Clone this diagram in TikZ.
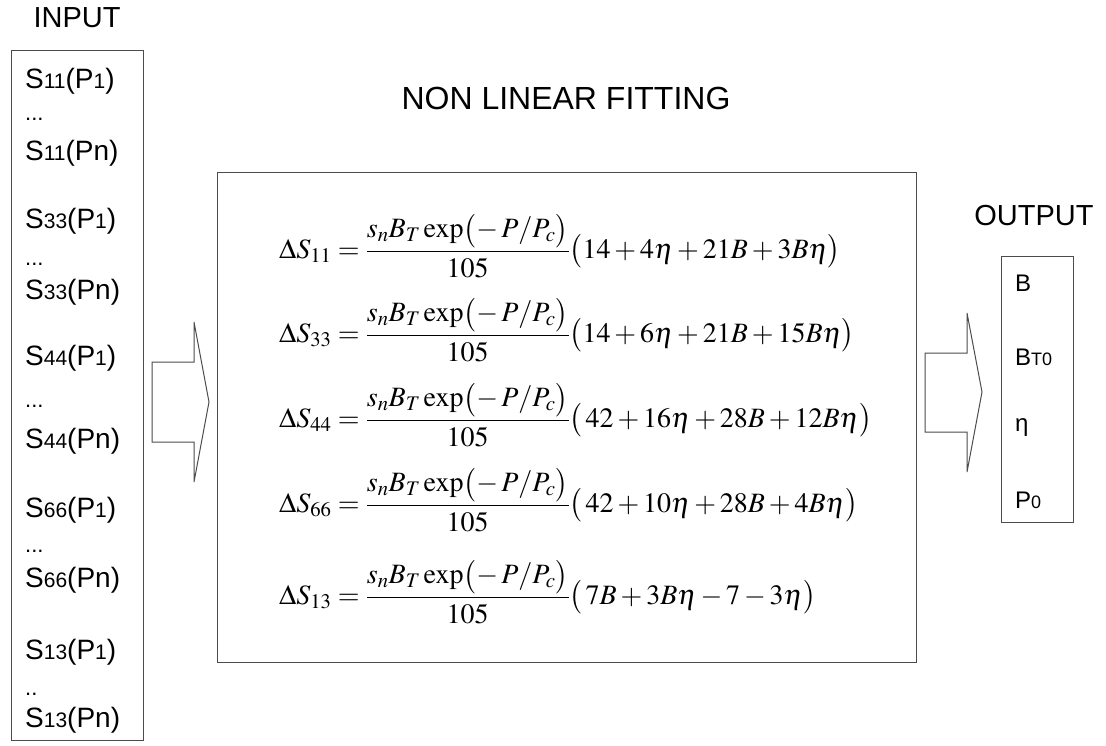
\documentclass[tikz,border=0pt]{standalone}
\usepackage{mathptmx}
\usepackage[no-math]{fontspec}
\newfontfamily\arial{Liberation Sans}
\newcommand\smalltxt[1]{{\fontsize{21}{24}\selectfont #1}}
\newcommand\smallout[1]{{\fontsize{18}{22}\selectfont #1}}
\newcommand\expfrac{\frac{s_n B_T\exp\bigl(-\,P/P_c\bigr)}{105}}
\tikzset{
  frame/.style={draw=black!70, line width=1.1pt},
  boxnode/.style={frame, anchor=north west, inner sep=0pt},
  lbl/.style={font=\arial\fontsize{29}{34}\selectfont, inner sep=0pt},
  item/.style={font=\arial\fontsize{28}{32}\selectfont, anchor=west, inner sep=0pt},
  dotsnode/.style={font=\arial\fontsize{22}{26}\selectfont, anchor=base west, inner sep=0pt},
  outitem/.style={font=\arial\fontsize{24}{28}\selectfont, anchor=west, inner sep=0pt},
  eq/.style={font=\fontsize{28}{32}\selectfont, anchor=west, inner sep=0pt},
  blockarrow/.style={draw=black!70, line width=1pt, fill=white},
}
\begin{document}
\begin{tikzpicture}[x=1pt,y=-1pt]
\path[use as bounding box, fill=white] (0,0) rectangle (1106,745);

% labels
\node[lbl] (tin) at (77,18) {INPUT};
\node[lbl, font=\arial\fontsize{32}{36}\selectfont] (tfit) at (566,98) {NON LINEAR FITTING};
\node[lbl] (tout) at (1034,216) {OUTPUT};

% boxes
\node[boxnode, minimum width=132pt, minimum height=690pt] (inbox) at (11,50) {};
\node[boxnode, minimum width=699pt, minimum height=490pt] (fitbox) at (217,172) {};
\node[boxnode, minimum width=72pt, minimum height=266pt] (outbox) at (1001,256) {};

% input items
\node[item] (a1) at (25,81) {S\smalltxt{11}(P\smalltxt{1})};
\node[dotsnode] (ad) at (25,120) {...};
\node[item] (an) at (25,153) {S\smalltxt{11}(Pn)};
\node[item] (b1) at (25,221) {S\smalltxt{33}(P\smalltxt{1})};
\node[dotsnode] (bd) at (25,265) {...};
\node[item] (bn) at (25,292) {S\smalltxt{33}(Pn)};
\node[item] (c1) at (25,358) {S\smalltxt{44}(P\smalltxt{1})};
\node[dotsnode] (cd) at (25,407) {...};
\node[item] (cn) at (25,441) {S\smalltxt{44}(Pn)};
\node[item] (d1) at (25,510) {S\smalltxt{66}(P\smalltxt{1})};
\node[dotsnode] (dd) at (25,552) {...};
\node[item] (dn) at (25,580) {S\smalltxt{66}(Pn)};
\node[item] (e1) at (25,652) {S\smalltxt{13}(P\smalltxt{1})};
\node[dotsnode] (ed) at (25,695) {..};
\node[item] (en) at (25,720) {S\smalltxt{13}(Pn)};

% output items
\node[outitem] (o1) at (1015,283) {B};
\node[outitem] (o2) at (1015,357) {B\smallout{T0}};
\node[outitem] (o3) at (1015,428) {η};
\node[outitem] (o4) at (1015,500) {P\smallout{0}};

% equations
\node[eq] (q1) at (279,246) {$\displaystyle \Delta S_{11}=\expfrac\bigl(14+4\eta+21B+3B\eta\bigr)$};
\node[eq] (q2) at (279,330) {$\displaystyle \Delta S_{33}=\expfrac\bigl(14+6\eta+21B+15B\eta\bigr)$};
\node[eq] (q3) at (279,415) {$\displaystyle \Delta S_{44}=\expfrac\bigl(\,42+16\eta+28B+12B\eta\bigr)$};
\node[eq] (q4) at (279,500) {$\displaystyle \Delta S_{66}=\expfrac\bigl(\,42+10\eta+28B+4B\eta\bigr)$};
\node[eq] (q5) at (279,592) {$\displaystyle \Delta S_{13}=\expfrac\bigl(\,7B+3B\eta-7-3\eta\bigr)$};

% block arrows
\draw[blockarrow] (152,362) -- (194,362) -- (194,322) -- (209,402) -- (194,482) -- (194,442) -- (152,442) -- cycle;
\draw[blockarrow] (925,353) -- (967,353) -- (967,313) -- (982,392) -- (967,472) -- (967,432) -- (925,432) -- cycle;
\end{tikzpicture}
\end{document}
